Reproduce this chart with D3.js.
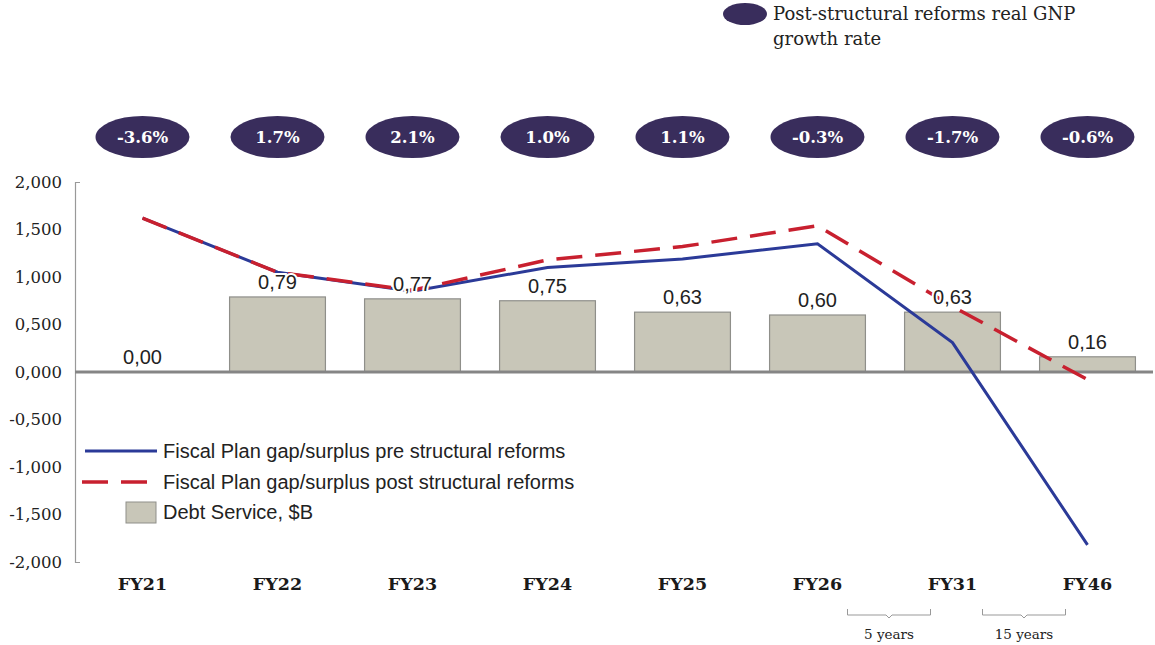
<!DOCTYPE html>
<html>
<head>
<meta charset="utf-8">
<script src="https://cdn.jsdelivr.net/npm/d3@7"></script>
<style>
  body { margin: 0; background: #fff; }
  svg { display: block; }
</style>
</head>
<body>
<div id="chart"></div>
<script>
// chart data
const years = ['FY21', 'FY22', 'FY23', 'FY24', 'FY25', 'FY26', 'FY31', 'FY46'];
const gnpGrowth = ['-3.6%', '1.7%', '2.1%', '1.0%', '1.1%', '-0.3%', '-1.7%', '-0.6%'];
const preReforms = [1.62, 1.05, 0.85, 1.10, 1.19, 1.35, 0.31, -1.82];
const postReforms = [1.62, 1.05, 0.86, 1.18, 1.32, 1.54, 0.69, -0.08];
const debtService = [0.00, 0.79, 0.77, 0.75, 0.63, 0.60, 0.63, 0.16];
const yTicks = [2, 1.5, 1, 0.5, 0, -0.5, -1, -1.5, -2];
const gaps = [
    { from: 'FY26', to: 'FY31', label: '5 years' },
    { from: 'FY31', to: 'FY46', label: '15 years' }
];

const width = 1155, height = 645;
const serif = '"DejaVu Serif", "Liberation Serif", serif';
const sans = '"Liberation Sans", Arial, sans-serif';

const svg = d3.select('#chart').append('svg')
    .attr('width', width)
    .attr('height', height);

const x = d3.scaleBand()
    .domain(years)
    .range([75, 1155])
    .paddingInner(0.29)
    .paddingOuter(0.145);

const y = d3.scaleLinear()
    .domain([-2, 2])
    .range([562, 182]);

const fmt = v => d3.format(',.3f')(v).replace('.', ',').replace('−', '-');
const fmt2 = v => d3.format('.2f')(v).replace('.', ',');
const cx = d => x(d) + x.bandwidth() / 2;

// y axis
const yAxis = d3.axisLeft(y)
    .tickValues(yTicks)
    .tickSize(0)
    .tickSizeOuter(-5)
    .tickPadding(13)
    .tickFormat(fmt);

const gy = svg.append('g')
    .attr('transform', 'translate(75,0)')
    .call(yAxis);
gy.select('.domain').attr('stroke', '#999').attr('stroke-width', 1.2);
gy.selectAll('text')
    .attr('fill', '#222')
    .style('font-family', serif)
    .style('font-size', '16.5px');

// bars
svg.selectAll('.bar')
    .data(years.map((d, i) => ({ year: d, v: debtService[i] })))
    .enter()
    .append('rect')
    .attr('class', 'bar')
    .attr('x', d => x(d.year))
    .attr('width', x.bandwidth())
    .attr('y', d => y(d.v))
    .attr('height', d => y(0) - y(d.v))
    .attr('fill', '#c8c6b8')
    .attr('stroke', '#8f8f8a')
    .attr('stroke-width', 1.2);

// zero line
svg.append('line')
    .attr('x1', 75).attr('x2', 1153)
    .attr('y1', y(0)).attr('y2', y(0))
    .attr('stroke', '#858585')
    .attr('stroke-width', 3);

// lines
const line = d3.line()
    .x((d, i) => cx(years[i]))
    .y(d => y(d));

svg.append('path')
    .datum(preReforms)
    .attr('d', line)
    .attr('fill', 'none')
    .attr('stroke', '#2b3a98')
    .attr('stroke-width', 3);

svg.append('path')
    .datum(postReforms)
    .attr('d', line)
    .attr('fill', 'none')
    .attr('stroke', '#c8202f')
    .attr('stroke-width', 3.5)
    .attr('stroke-dasharray', '26,13');

// bar value labels
svg.selectAll('.bar-label')
    .data(years.map((d, i) => ({ year: d, v: debtService[i] })))
    .enter()
    .append('text')
    .attr('class', 'bar-label')
    .attr('x', d => cx(d.year))
    .attr('y', d => y(d.v) - 8)
    .attr('text-anchor', 'middle')
    .attr('fill', '#222')
    .attr('stroke', '#fff')
    .attr('stroke-width', 4)
    .attr('paint-order', 'stroke')
    .style('font-family', sans)
    .style('font-size', '20px')
    .text(d => fmt2(d.v));

// x labels
svg.selectAll('.x-label')
    .data(years)
    .enter()
    .append('text')
    .attr('x', d => cx(d))
    .attr('y', 590)
    .attr('text-anchor', 'middle')
    .attr('fill', '#1a1a1a')
    .style('font-family', serif)
    .style('font-weight', 'bold')
    .style('font-size', '17.5px')
    .text(d => d);

// GNP growth bubbles
const bubbles = svg.selectAll('.bubble')
    .data(years.map((d, i) => ({ year: d, label: gnpGrowth[i] })))
    .enter()
    .append('g')
    .attr('transform', d => `translate(${cx(d.year)},137)`);

bubbles.append('ellipse')
    .attr('rx', 47)
    .attr('ry', 21)
    .attr('fill', '#392d5c');

bubbles.append('text')
    .attr('dy', '0.35em')
    .attr('text-anchor', 'middle')
    .attr('fill', '#fff')
    .style('font-family', serif)
    .style('font-weight', 'bold')
    .style('font-size', '16.5px')
    .text(d => d.label);

// period brackets
gaps.forEach(g => {
    const x1 = cx(g.from) + 30, x2 = cx(g.to) - 22, mid = (x1 + x2) / 2;
    svg.append('path')
        .attr('d', `M${x1},609 V615 H${mid - 3} L${mid},618 L${mid + 3},615 H${x2} V609`)
        .attr('fill', 'none')
        .attr('stroke', '#999')
        .attr('stroke-width', 1);
    svg.append('text')
        .attr('x', mid)
        .attr('y', 639)
        .attr('text-anchor', 'middle')
        .attr('fill', '#222')
        .style('font-family', serif)
        .style('font-size', '13.5px')
        .text(g.label);
});

// top legend
svg.append('ellipse')
    .attr('cx', 745).attr('cy', 14)
    .attr('rx', 22).attr('ry', 11)
    .attr('fill', '#392d5c');
svg.append('text')
    .attr('x', 773).attr('y', 20)
    .attr('fill', '#222')
    .style('font-family', serif)
    .style('font-size', '18px')
    .text('Post-structural reforms real GNP');
svg.append('text')
    .attr('x', 773).attr('y', 45)
    .attr('fill', '#222')
    .style('font-family', serif)
    .style('font-size', '18px')
    .text('growth rate');

// lower legend
const legend = svg.append('g').style('font-family', sans).style('font-size', '20px');

legend.append('line')
    .attr('x1', 85).attr('x2', 157).attr('y1', 451).attr('y2', 451)
    .attr('stroke', '#2b3a98').attr('stroke-width', 3);
legend.append('text')
    .attr('x', 163).attr('y', 458).attr('fill', '#222')
    .text('Fiscal Plan gap/surplus pre structural reforms');

legend.append('line')
    .attr('x1', 82).attr('x2', 157).attr('y1', 482).attr('y2', 482)
    .attr('stroke', '#c8202f').attr('stroke-width', 3.5)
    .attr('stroke-dasharray', '26,13');
legend.append('text')
    .attr('x', 163).attr('y', 489).attr('fill', '#222')
    .text('Fiscal Plan gap/surplus post structural reforms');

legend.append('rect')
    .attr('x', 126).attr('y', 502).attr('width', 30).attr('height', 21)
    .attr('fill', '#c8c6b8').attr('stroke', '#8f8f8a');
legend.append('text')
    .attr('x', 163).attr('y', 519).attr('fill', '#222')
    .text('Debt Service, $B');
</script>
</body>
</html>
